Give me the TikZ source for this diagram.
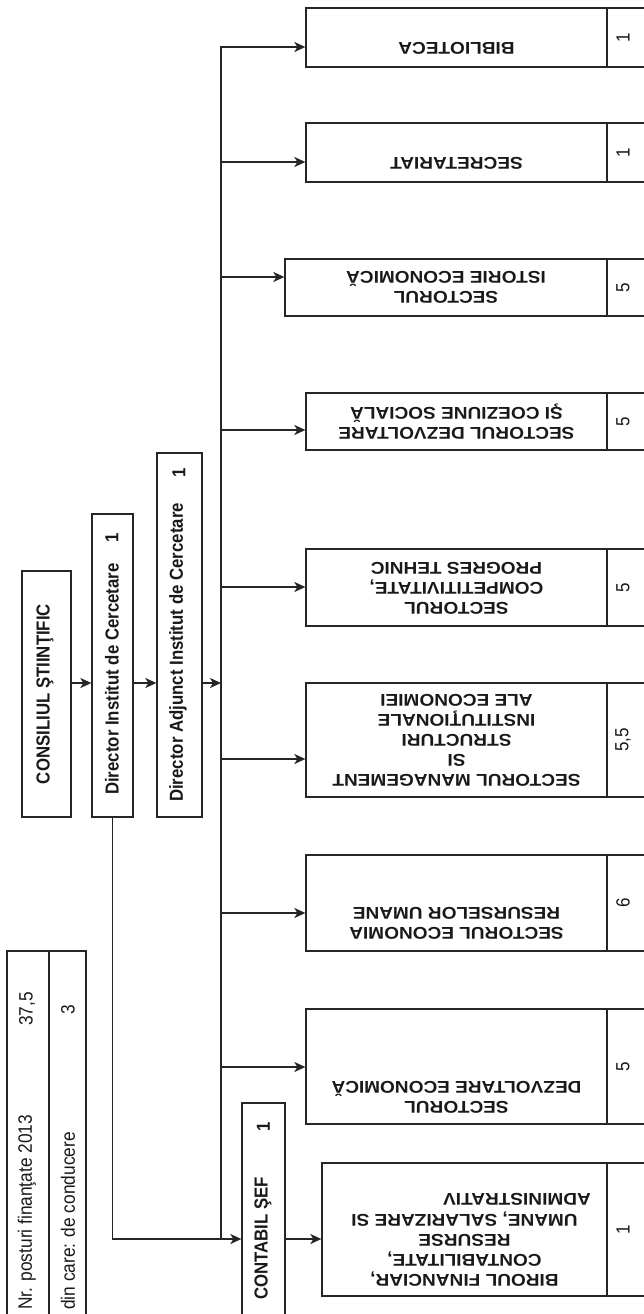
\documentclass[tikz,border=0pt]{standalone}
\usepackage{fontspec}
\setmainfont{Liberation Sans}
\usetikzlibrary{arrows.meta}
\tikzset{
  box/.style={draw=black!85, line width=1.3pt, inner sep=0pt, fill=white},
  conn/.style={draw=black!85, line width=1.7pt},
  arr/.style={conn, -{Stealth[length=11pt,width=10pt,inset=3pt]}},
  rtext/.style={font=\fontsize{17}{20}\selectfont\bfseries, align=center, rotate=180, xscale=1.12, inner sep=0pt, text=black!90},
  ltext/.style={font=\fontsize{16.8}{20}\selectfont\bfseries, xscale=1.12, rotate=90, inner sep=0pt, text=black!90},
  ntext/.style={font=\fontsize{17}{20}\selectfont, xscale=1.12, rotate=90, inner sep=0pt, text=black!90},
  ttext/.style={font=\fontsize{17.3}{20}\selectfont, xscale=1.12, rotate=90, inner sep=0pt, text=black!90},
}
\begin{document}
\begin{tikzpicture}[x=1pt,y=-1pt]
\useasboundingbox (0,0) rectangle (644,1314);
\fill[white] (0,0) rectangle (644,1314);
\clip (0,0) rectangle (644,1314);

% right boxes (main part)
\node[box, minimum width=301pt, minimum height=59pt] (bib) at (456.5,37.5) {};
\node[box, minimum width=301pt, minimum height=59pt] (sec) at (456.5,152.5) {};
\node[box, minimum width=322pt, minimum height=57pt] (ist) at (446,287.5) {};
\node[box, minimum width=301pt, minimum height=57pt] (coez) at (456.5,421.5) {};
\node[box, minimum width=301pt, minimum height=77pt] (comp) at (456.5,587.5) {};
\node[box, minimum width=301pt, minimum height=114pt] (man) at (456.5,740) {};
\node[box, minimum width=301pt, minimum height=96pt] (eco) at (456.5,903) {};
\node[box, minimum width=301pt, minimum height=115pt] (dez) at (456.5,1066.5) {};
\node[box, minimum width=285pt, minimum height=133pt] (bir) at (464.5,1229.5) {};

% number cells
\node[box, minimum width=73pt, minimum height=59pt] (bibn) at (643.5,37.5) {};
\node[box, minimum width=73pt, minimum height=59pt] (secn) at (643.5,152.5) {};
\node[box, minimum width=73pt, minimum height=57pt] (istn) at (643.5,287.5) {};
\node[box, minimum width=73pt, minimum height=57pt] (coezn) at (643.5,421.5) {};
\node[box, minimum width=73pt, minimum height=77pt] (compn) at (643.5,587.5) {};
\node[box, minimum width=73pt, minimum height=114pt] (mann) at (643.5,740) {};
\node[box, minimum width=73pt, minimum height=96pt] (econ) at (643.5,903) {};
\node[box, minimum width=73pt, minimum height=115pt] (dezn) at (643.5,1066.5) {};
\node[box, minimum width=73pt, minimum height=133pt] (birn) at (643.5,1229.5) {};

\node[ntext] (bibv) at (623,37.5) {1};
\node[ntext] (secv) at (623,152.5) {1};
\node[ntext] (istv) at (623,287.5) {5};
\node[ntext] (coezv) at (623,421.5) {5};
\node[ntext] (compv) at (623,587.5) {5};
\node[ntext] (manv) at (623,740) {5,5};
\node[ntext] (ecov) at (623,903) {6};
\node[ntext] (dezv) at (623,1066.5) {5};
\node[ntext] (birv) at (623,1229.5) {1};

% right texts
\node[rtext] (bibt) at (456.5,48) {BIBLIOTECA};
\node[rtext] (sect) at (456.5,163) {SECRETARIAT};
\node[rtext] (istt) at (446,287.5) {SECTORUL\\ISTORIE ECONOMICĂ};
\node[rtext] (coezt) at (456.5,422) {SECTORUL DEZVOLTARE\\ŞI COEZIUNE SOCIALĂ};
\node[rtext] (compt) at (456.5,588) {SECTORUL\\COMPETITIVITATE,\\PROGRES TEHNIC};
\node[rtext] (mant) at (456.5,740) {SECTORUL MANAGEMENT\\SI\\STRUCTURI\\INSTITUŢIONALE\\ALE ECONOMIEI};
\node[rtext] (ecot) at (456.5,923) {SECTORUL ECONOMIA\\RESURSELOR UMANE};
\node[rtext] (dezt) at (456.5,1097) {SECTORUL\\DEZVOLTARE ECONOMICĂ};
\node[rtext] (birt) at (464.5,1249.5) {BIROUL FINANCIAR,\\CONTABILITATE,\\RESURSE\\UMANE, SALARIZARE SI};
\node[rtext] (birt2) at (517,1199) {ADMINISTRATIV};

% left boxes
\node[box, minimum width=49pt, minimum height=246pt] (cons) at (46.5,694) {};
\node[box, minimum width=41pt, minimum height=303pt] (dir) at (112.5,665.5) {};
\node[box, minimum width=45pt, minimum height=364pt] (adj) at (179.5,635) {};
\node[box, minimum width=43pt, minimum height=272pt] (cont) at (263.5,1239) {};
\node[box, minimum width=42pt, minimum height=449pt] (tab1) at (28,1175.5) {};
\node[box, minimum width=37pt, minimum height=449pt] (tab2) at (67.5,1175.5) {};

\node[ltext] (const) at (45,694) {CONSILIUL ŞTIINŢIFIC};
\node[ltext, anchor=west] (dirt) at (112,795) {Director Institut de Cercetare};
\node[ltext] (dirv) at (112,538) {1};
\node[ltext, anchor=west] (adjt) at (178,802) {Director Adjunct Institut de Cercetare};
\node[ltext] (adjv) at (179,473) {1};
\node[ltext, anchor=west] (contt) at (263,1300) {CONTABIL ŞEF};
\node[ltext] (contv) at (263.5,1127) {1};
\node[ttext, anchor=west] (tab1t) at (27,1310) {Nr. posturi finanţate 2013};
\node[ttext] (tab1v) at (27,1009) {37,5};
\node[ttext, anchor=west] (tab2t) at (68,1310) {din care: de conducere};
\node[ttext] (tab2v) at (68,1010) {3};

% bus coordinates
\coordinate (a1) at (221,47);
\coordinate (a2) at (221,162);
\coordinate (a3) at (221,277);
\coordinate (a4) at (221,430);
\coordinate (a5) at (221,587);
\coordinate (a6) at (221,759);
\coordinate (a7) at (221,913);
\coordinate (a8) at (221,1067);
\coordinate (a9) at (221,1239);
\coordinate (lvl) at (221,683);

% connectors
\draw[arr] (a9) -- (a1) -- (a1 -| bib.west);
\draw[arr] (a2) -- (a2 -| sec.west);
\draw[arr] (a3) -- (a3 -| ist.west);
\draw[arr] (a4) -- (a4 -| coez.west);
\draw[arr] (a5) -- (a5 -| comp.west);
\draw[arr] (a6) -- (a6 -| man.west);
\draw[arr] (a7) -- (a7 -| eco.west);
\draw[arr] (a8) -- (a8 -| dez.west);
\draw[arr] (cons.east |- lvl) -- (dir.west |- lvl);
\draw[arr] (dir.east |- lvl) -- (adj.west |- lvl);
\draw[arr] (adj.east |- lvl) -- (lvl);
\draw[arr] (dir.south) |- (cont.west);
\draw[arr] (cont.east) -- (cont.east -| bir.west);
\end{tikzpicture}
\end{document}
